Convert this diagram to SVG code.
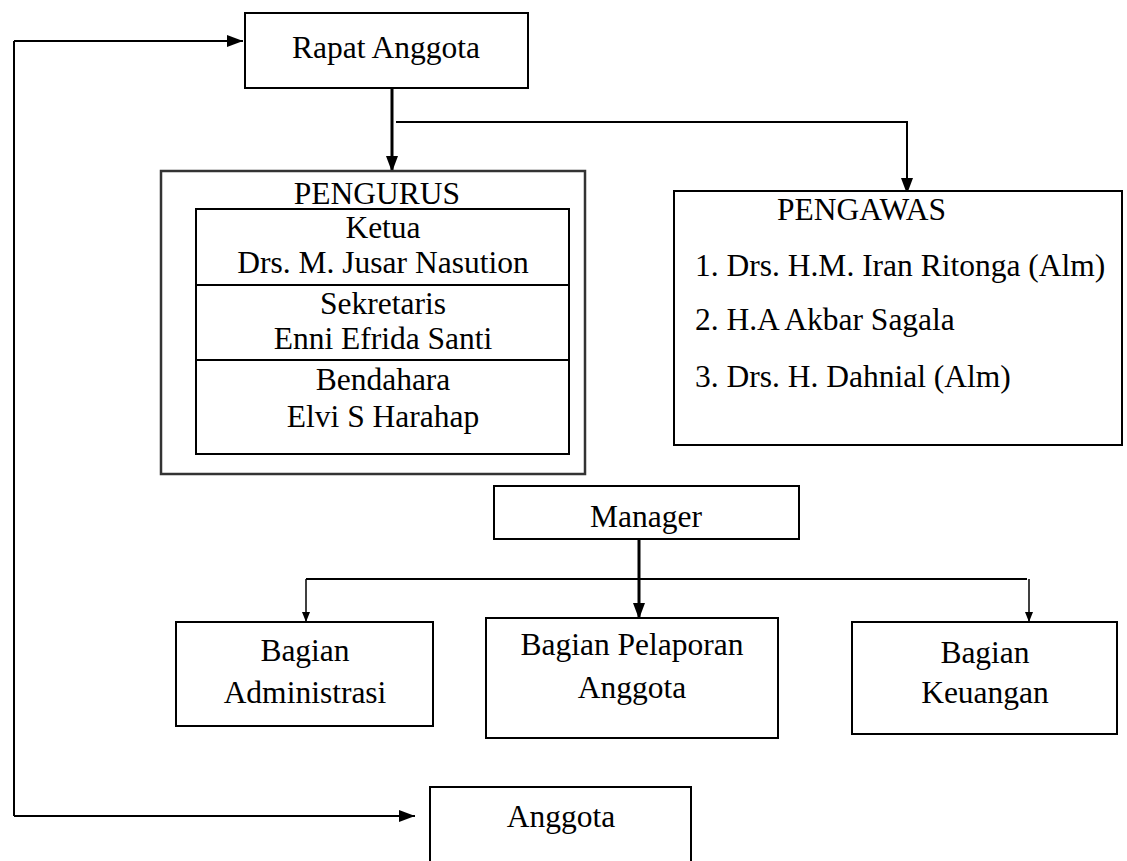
<svg xmlns="http://www.w3.org/2000/svg" width="1127" height="861" viewBox="0 0 1127 861">
<style>
.box{fill:#fff;stroke:#000;stroke-width:2}
.outer{fill:#fff;stroke:#333;stroke-width:2.5}
.t{font-family:"Liberation Serif","Times New Roman",serif;font-size:31.5px;fill:#000}
.c{text-anchor:middle}
.ln{fill:none;stroke:#000;stroke-width:2}
.bold{fill:none;stroke:#000;stroke-width:3}
.thin{fill:none;stroke:#000;stroke-width:1.5}
</style>
<defs>
<marker id="arr" viewBox="0 0 16 12" refX="16" refY="6" markerWidth="16" markerHeight="12" markerUnits="userSpaceOnUse" orient="auto"><path d="M0,0 L16,6 L0,12 z" fill="#000"/></marker>
<marker id="arrS" viewBox="0 0 10 8" refX="10" refY="4" markerWidth="10" markerHeight="8" markerUnits="userSpaceOnUse" orient="auto"><path d="M0,0 L10,4 L0,8 z" fill="#000"/></marker>
</defs>
<g id="connectors">
<path class="ln" d="M14,41 L14,816"/>
<path class="ln" d="M14,41 L243,41" marker-end="url(#arr)"/>
<path class="ln" d="M14,816 L415,816" marker-end="url(#arr)"/>
<path class="bold" d="M392,88 L392,172" marker-end="url(#arr)"/>
<path class="ln" d="M396,122 L907,122 L907,194" marker-end="url(#arr)"/>
<path class="bold" d="M639,539 L639,619" marker-end="url(#arr)"/>
<path class="ln" d="M306,579 L1027,579"/>
<path class="thin" d="M306,579 L306,622" marker-end="url(#arrS)"/>
<path class="thin" d="M1029,579 L1029,622" marker-end="url(#arrS)"/>
</g>
<g id="rapat-anggota">
<rect class="box" x="245" y="13" width="283" height="75"/>
<text class="t c" x="386" y="58">Rapat Anggota</text>
</g>
<g id="pengurus">
<rect class="outer" x="161" y="171" width="424" height="303"/>
<text class="t c" x="377" y="204">PENGURUS</text>
<rect class="box" x="196" y="209" width="373" height="245"/>
<line class="ln" x1="196" y1="285" x2="569" y2="285" stroke-width="3"/>
<line class="ln" x1="196" y1="360" x2="569" y2="360" stroke-width="3"/>
<text class="t c" x="383" y="238">Ketua</text>
<text class="t c" x="383" y="273">Drs. M. Jusar Nasution</text>
<text class="t c" x="383" y="314">Sekretaris</text>
<text class="t c" x="383" y="349">Enni Efrida Santi</text>
<text class="t c" x="383" y="390">Bendahara</text>
<text class="t c" x="383" y="427">Elvi S Harahap</text>
</g>
<g id="pengawas">
<rect class="box" x="674" y="191" width="448" height="254"/>
<text class="t" x="777" y="220">PENGAWAS</text>
<text class="t" x="695" y="276">1. Drs. H.M. Iran Ritonga (Alm)</text>
<text class="t" x="695" y="330">2. H.A Akbar Sagala</text>
<text class="t" x="695" y="387">3. Drs. H. Dahnial (Alm)</text>
</g>
<g id="manager">
<rect class="box" x="494" y="486" width="305" height="53"/>
<text class="t c" x="646" y="527">Manager</text>
</g>
<g id="bagian-administrasi">
<rect class="box" x="176" y="622" width="257" height="104"/>
<text class="t c" x="305" y="661">Bagian</text>
<text class="t c" x="305" y="703">Administrasi</text>
</g>
<g id="bagian-pelaporan">
<rect class="box" x="486" y="618" width="292" height="120"/>
<text class="t c" x="632" y="655">Bagian Pelaporan</text>
<text class="t c" x="632" y="698">Anggota</text>
</g>
<g id="bagian-keuangan">
<rect class="box" x="852" y="622" width="265" height="112"/>
<text class="t c" x="985" y="663">Bagian</text>
<text class="t c" x="985" y="703">Keuangan</text>
</g>
<g id="anggota">
<rect class="box" x="430" y="787" width="261" height="90"/>
<text class="t c" x="561" y="827">Anggota</text>
</g>
</svg>
